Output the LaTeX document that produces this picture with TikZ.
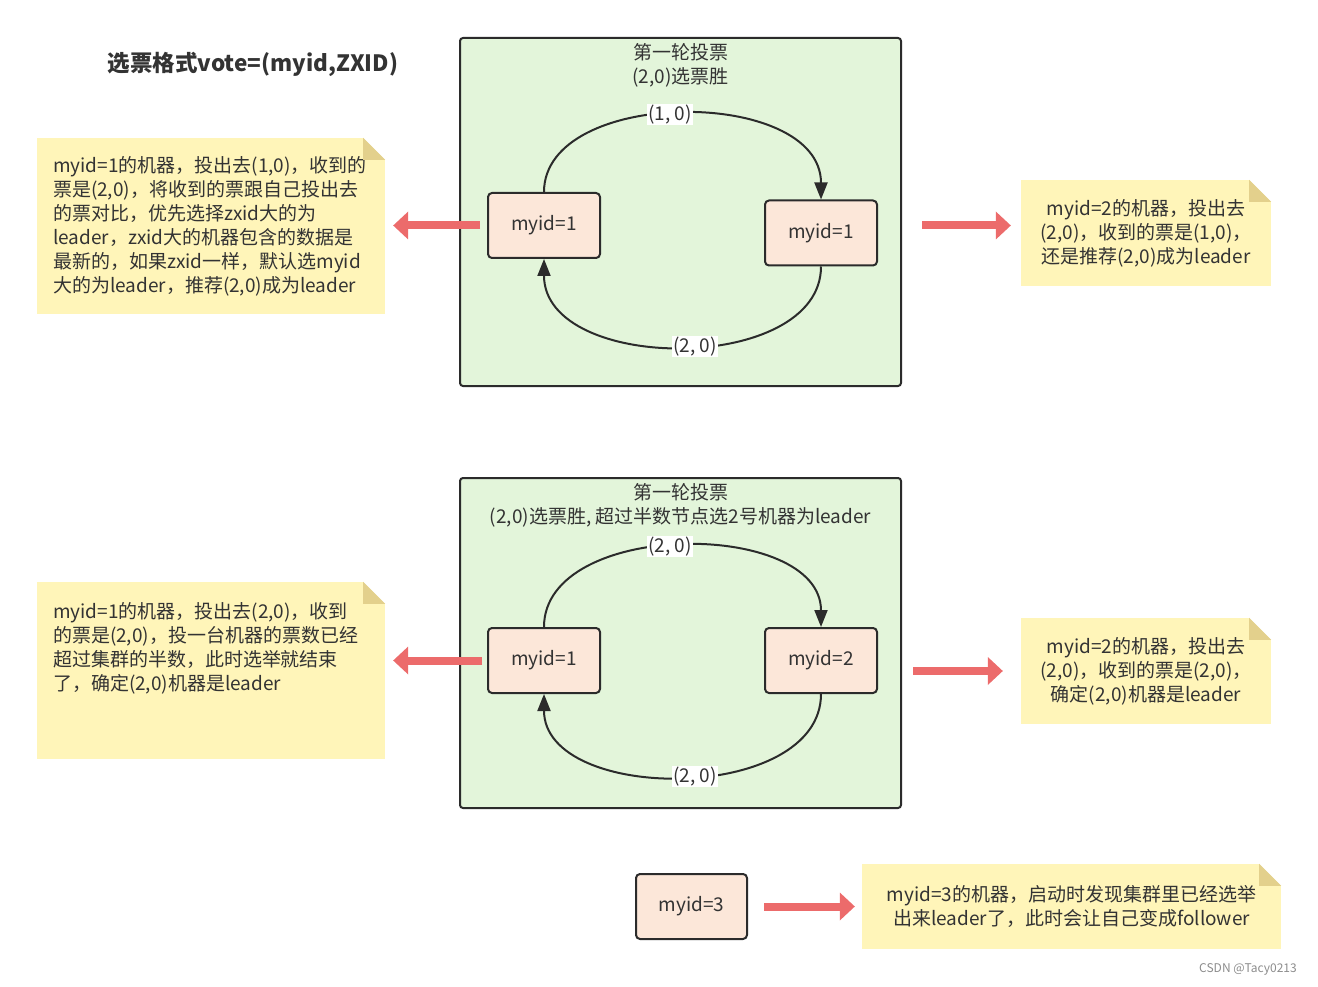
\documentclass[tikz,border=0pt]{standalone}
\usepackage{fontspec}
\setmainfont{Noto Sans CJK SC}
\usetikzlibrary{positioning,arrows.meta}
\definecolor{groupgreen}{HTML}{E3F5DA}
\definecolor{serverfill}{HTML}{FCE7D9}
\definecolor{inkline}{HTML}{2B2B2B}
\definecolor{memoyellow}{HTML}{FFF5B9}
\definecolor{memofold}{HTML}{E3D08C}
\definecolor{votered}{HTML}{EC6B6B}
\definecolor{inktext}{HTML}{333333}
\newcommand\votefont{\fontsize{19pt}{24pt}\selectfont}
\tikzset{
  heading/.style={font=\fontsize{22.5pt}{26pt}\selectfont\bfseries, text=inktext},
  group/.style={draw=inkline, line width=2pt, rounded corners=3pt, fill=groupgreen,
                minimum width=441pt, inner sep=0pt},
  grouptitle/.style={align=center, font=\votefont, text=inktext, inner sep=0pt},
  server/.style={draw=inkline, line width=2pt, rounded corners=4pt, fill=serverfill,
                 minimum width=112pt, minimum height=65pt, font=\votefont, text=inktext},
  memo/.style={fill=memoyellow, inner xsep=16pt, inner ysep=0pt, font=\votefont, text=inktext},
  ring/.style={draw=inkline, line width=2pt, -{Triangle[length=17pt,width=13pt]}},
  pairlabel/.style={fill=white, inner sep=1pt, font=\votefont, text=inktext},
  vote/.style={draw=votered, line width=8pt, -{Triangle[length=15pt,width=28pt,line width=0pt]}},
}
\begin{document}
\begin{tikzpicture}[x=1pt,y=-1pt]
\useasboundingbox (0,0) rectangle (1318,987);
\node[heading] (fmt) at (253,64) {选票格式vote=(myid,ZXID)};
% round one
\node[group, minimum height=348pt] (round1) at (680.5,212) {};
\node[grouptitle, below=6pt of round1.north] (title1) {第一轮投票\\(2,0)选票胜};
\node[server] (s1a) at (544,225.5) {myid=1};
\node[server, right=163pt of s1a, yshift=-7.5pt] (s1b) {myid=1};
\draw[ring] (s1a.north) .. controls +(0,-105) and +(0,-113) .. (s1b.north)
  node[pairlabel, pos=0.47] (lab1t) {(1, 0)};
\draw[ring] (s1b.south) .. controls +(0,108) and +(0,115) .. (s1a.south)
  node[pairlabel, pos=0.47] (lab1b) {(2, 0)};
\node[memo, text width=316pt, minimum height=176pt, align=left] (memo1) at (211,226)
  {myid=1的机器，投出去(1,0)，收到的\\票是(2,0)，将收到的票跟自己投出去\\的票对比，优先选择zxid大的为\\leader，zxid大的机器包含的数据是\\最新的，如果zxid一样，默认选myid\\大的为leader，推荐(2,0)成为leader};
\node[memo, text width=218pt, minimum height=106pt, align=center] (memo1r) at (1146,233)
  {myid=2的机器，投出去\\(2,0)，收到的票是(1,0)，\\还是推荐(2,0)成为leader};
% round two
\node[group, minimum height=330pt] (round2) at (680.5,643) {};
\node[grouptitle, below=6pt of round2.north] (title2) {第一轮投票\\(2,0)选票胜, 超过半数节点选2号机器为leader};
\node[server] (s2a) at (544,660.5) {myid=1};
\node[server, right=163pt of s2a] (s2b) {myid=2};
\draw[ring] (s2a.north) .. controls +(0,-108) and +(0,-108) .. (s2b.north)
  node[pairlabel, pos=0.47] (lab2t) {(2, 0)};
\draw[ring] (s2b.south) .. controls +(0,110) and +(0,110) .. (s2a.south)
  node[pairlabel, pos=0.47] (lab2b) {(2, 0)};
\node[memo, text width=316pt, minimum height=177pt, align=left] (memo2) at (211,670.5)
  {myid=1的机器，投出去(2,0)，收到\\的票是(2,0)，投一台机器的票数已经\\超过集群的半数，此时选举就结束\\了，确定(2,0)机器是leader\\ \mbox{}\\ \mbox{}};
\node[memo, text width=218pt, minimum height=106pt, align=center] (memo2r) at (1146,671)
  {myid=2的机器，投出去\\(2,0)，收到的票是(2,0)，\\确定(2,0)机器是leader};
% late joiner
\node[server, minimum width=111pt] (s3) at (691.5,906.5) {myid=3};
\node[memo, text width=387pt, minimum height=85pt, align=center] (memo3) at (1071.5,906.5)
  {myid=3的机器，启动时发现集群里已经选举\\出来leader了，此时会让自己变成follower};
\foreach \m in {memo1,memo1r,memo2,memo2r,memo3} {
  \fill[white] (\m.north east) -- ++(-22,0) -- ++(22,22) -- cycle;
  \fill[memofold] (\m.north east) ++(-22,0) -- ++(0,22) -- ++(22,0) -- cycle;
}
\draw[vote, shorten <=7pt, shorten >=8pt] (s1a.west) -- (s1a.west -| memo1.east);
\draw[vote, shorten <=20pt, shorten >=10pt] (round1.east |- s1a) -- (memo1r.west |- s1a);
\draw[vote, shorten <=5pt, shorten >=8pt] (s2a.west) -- (s2a.west -| memo2.east);
\draw[vote, shorten <=11pt, shorten >=18pt] (round2.east |- memo2r.west) -- (memo2r.west);
\draw[vote, shorten <=16pt, shorten >=7pt] (s3.east) -- (memo3.west);
\node[font=\fontsize{12pt}{14pt}\selectfont, text=black!45] (mark) at (1248,969) {CSDN @Tacy0213};
\end{tikzpicture}
\end{document}
